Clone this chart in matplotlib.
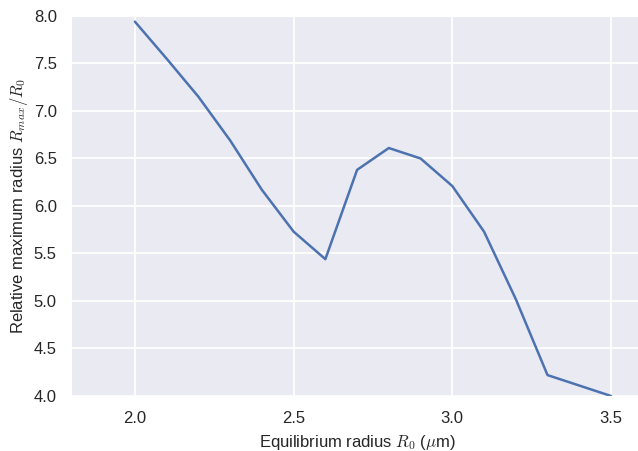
# Relative maximum bubble radius against equilibrium radius
import matplotlib
matplotlib.use('Agg')
import matplotlib.pyplot as plt
import seaborn as sns

# data
r0 = [2.0, 2.1, 2.2, 2.3, 2.4, 2.5, 2.6, 2.7, 2.8, 2.9, 3.0, 3.1, 3.2, 3.3, 3.4, 3.5]
rmax_ratio = [7.94, 7.55, 7.15, 6.69, 6.17, 5.73, 5.44, 6.38, 6.61, 6.50,
              6.21, 5.73, 5.02, 4.22, 4.11, 4.00]

sns.set_style('darkgrid')
plt.rcParams['font.family'] = ['Liberation Sans', 'DejaVu Sans']
plt.rcParams['mathtext.fontset'] = 'cm'

fig = plt.figure(figsize=(6.38, 4.51), dpi=100)
ax = fig.add_axes([0.112, 0.122, 0.8954, 0.8426])
ax.plot(r0, rmax_ratio, color='#4C72B0', linewidth=1.8)
ax.set_xlim(1.8, 3.6)
ax.set_ylim(4.0, 8.0)
ax.set_xticks([2.0, 2.5, 3.0, 3.5])
ax.set_yticks([4.0, 4.5, 5.0, 5.5, 6.0, 6.5, 7.0, 7.5, 8.0])
ax.tick_params(labelsize=12, colors='#262626', pad=7)
ax.set_xlabel(r'Equilibrium radius $R_0$ ($\mu$m)', fontsize=12, color='#262626', labelpad=5)
ax.set_ylabel(r'Relative maximum radius $R_{max}/R_0$', fontsize=12, color='#262626', labelpad=3)
ax.grid(color='white', linewidth=1.3)

fig.savefig('out.png', dpi=100)
